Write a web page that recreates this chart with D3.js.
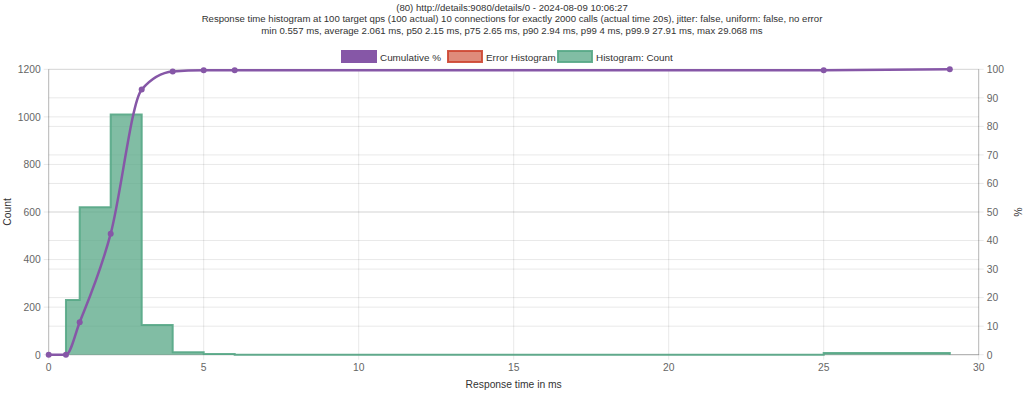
<!DOCTYPE html>
<html><head><meta charset="utf-8">
<script src="https://cdn.jsdelivr.net/npm/d3@7"></script>
<style>
html,body{margin:0;padding:0;background:#fff;}
svg{display:block;font-family:"Liberation Sans",Arial,Helvetica,sans-serif;}
</style></head>
<body>
<svg id="chart" width="1024" height="393"></svg>
<script>
// ---- data ----
const titleLines = [
  "(80) http://details:9080/details/0 - 2024-08-09 10:06:27",
  "Response time histogram at 100 target qps (100 actual) 10 connections for exactly 2000 calls (actual time 20s), jitter: false, uniform: false, no error",
  "min 0.557 ms, average 2.061 ms, p50 2.15 ms, p75 2.65 ms, p90 2.94 ms, p99 4 ms, p99.9 27.91 ms, max 29.068 ms"
];
const legendLabels = ["Cumulative %", "Error Histogram", "Histogram: Count"];
// histogram buckets: start of bucket (ms) and count; last entry closes the final bucket
const histX = [0.557, 1, 2, 3, 4, 5, 6, 25, 29.068];
const histCount = [230, 620, 1010, 125, 10, 3, 0, 7, 0];
// cumulative percentage points
const cumX = [0, 0.557, 1, 2, 3, 4, 5, 6, 25, 29.068];
const cumPct = [0, 0, 11.4, 42.4, 92.9, 99.2, 99.65, 99.65, 99.65, 100];
const xTicks = [0, 5, 10, 15, 20, 25, 30];
const countTicks = [0, 200, 400, 600, 800, 1000, 1200];
const pctTicks = [0, 10, 20, 30, 40, 50, 60, 70, 80, 90, 100];

// ---- layout ----
const svg = d3.select("#chart");
const L = 48.7, R = 978.7, T = 69.3, B = 354.7;
const x = d3.scaleLinear().domain([0, 30]).range([L, R]);
const yC = d3.scaleLinear().domain([0, 1200]).range([B, T]);
const yP = d3.scaleLinear().domain([0, 100]).range([B, T]);

const purple = "rgba(134,87,167,1)";
const greenStroke = "rgba(87,167,134,0.9)";
const greenFill = "rgba(87,167,134,0.75)";
const redStroke = "rgba(205,70,50,0.9)";
const redFill = "rgba(215,110,90,0.8)";
const gridCol = "rgba(0,0,0,0.09)";
const tickCol = "#666";
const font = 10.3;

// title
titleLines.forEach((t, i) => {
  svg.append("text").attr("x", 512).attr("y", 10.5 + i * 11.8)
    .attr("text-anchor", "middle").attr("font-size", 9.6).attr("fill", "#333").text(t);
});

// legend
const legendItems = [
  {x: 341, fill: purple, stroke: purple, label: legendLabels[0]},
  {x: 447, fill: redFill, stroke: redStroke, label: legendLabels[1]},
  {x: 557, fill: greenFill, stroke: greenStroke, label: legendLabels[2]}
];
legendItems.forEach(it => {
  svg.append("rect").attr("x", it.x + 1).attr("y", 51).attr("width", 34).attr("height", 11)
    .attr("fill", it.fill).attr("stroke", it.stroke).attr("stroke-width", 2);
  svg.append("text").attr("x", it.x + 39).attr("y", 60.5).attr("font-size", 9.9)
    .attr("fill", "#333").text(it.label);
});

// grid
const g = svg.append("g");
xTicks.forEach(v => {
  g.append("line").attr("x1", x(v)).attr("x2", x(v)).attr("y1", T).attr("y2", B + 5)
    .attr("stroke", gridCol).attr("stroke-width", 1);
});
countTicks.forEach(v => {
  g.append("line").attr("x1", L - 5).attr("x2", R).attr("y1", yC(v)).attr("y2", yC(v))
    .attr("stroke", gridCol);
});
pctTicks.forEach(v => {
  g.append("line").attr("x1", L).attr("x2", R + 5).attr("y1", yP(v)).attr("y2", yP(v))
    .attr("stroke", gridCol);
});
// axis lines
g.append("line").attr("x1", L).attr("x2", L).attr("y1", T).attr("y2", B).attr("stroke", "rgba(0,0,0,0.22)");
g.append("line").attr("x1", R).attr("x2", R).attr("y1", T).attr("y2", B).attr("stroke", "rgba(0,0,0,0.22)");
g.append("line").attr("x1", L).attr("x2", R).attr("y1", B).attr("y2", B).attr("stroke", "rgba(0,0,0,0.22)");

// tick labels
xTicks.forEach(v => {
  svg.append("text").attr("x", x(v)).attr("y", B + 16.5).attr("text-anchor", "middle")
    .attr("font-size", font).attr("fill", tickCol).text(v);
});
countTicks.forEach(v => {
  svg.append("text").attr("x", L - 8).attr("y", yC(v) + 3.8).attr("text-anchor", "end")
    .attr("font-size", font).attr("fill", tickCol).text(v);
});
pctTicks.forEach(v => {
  svg.append("text").attr("x", R + 8).attr("y", yP(v) + 3.8).attr("text-anchor", "start")
    .attr("font-size", font).attr("fill", tickCol).text(v);
});

// axis titles
svg.append("text").attr("transform", `translate(11,${(T + B) / 2}) rotate(-90)`)
  .attr("text-anchor", "middle").attr("font-size", font).attr("fill", "#333").text("Count");
svg.append("text").attr("transform", `translate(1014,${(T + B) / 2}) rotate(90)`)
  .attr("text-anchor", "middle").attr("font-size", font).attr("fill", "#333").text("%");
svg.append("text").attr("x", (L + R) / 2).attr("y", 388).attr("text-anchor", "middle")
  .attr("font-size", font).attr("fill", "#333").text("Response time in ms");

// histogram (stepped, filled)
const hist = histX.map((v, i) => ({x: v, y: histCount[i]}));
const area = d3.area().x(d => x(d.x)).y0(yC(0)).y1(d => yC(d.y)).curve(d3.curveStepAfter);
const hLine = d3.line().x(d => x(d.x)).y(d => yC(d.y)).curve(d3.curveStepAfter);
svg.append("path").datum(hist).attr("d", area).attr("fill", greenFill);
svg.append("path").datum([{x: hist[0].x, y: 0}].concat(hist)).attr("d", hLine)
  .attr("fill", "none").attr("stroke", greenStroke).attr("stroke-width", 2);

// cumulative line
const cum = cumX.map((v, i) => ({x: v, y: cumPct[i]}));
const cLine = d3.line().x(d => x(d.x)).y(d => yP(d.y)).curve(d3.curveMonotoneX);
svg.append("path").datum(cum).attr("d", cLine).attr("fill", "none")
  .attr("stroke", purple).attr("stroke-width", 2.5);
svg.selectAll("circle.pt").data(cum).enter().append("circle").attr("class", "pt")
  .attr("cx", d => x(d.x)).attr("cy", d => yP(d.y)).attr("r", 3).attr("fill", purple);
</script>
</body></html>
